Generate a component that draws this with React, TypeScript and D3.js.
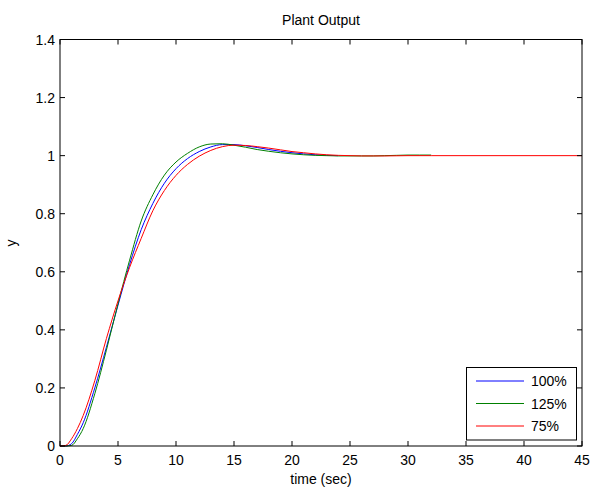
import React from "react";
import * as d3 from "d3";

const seriesNames = ["100%", "125%", "75%"];
const seriesColors = ["#0000ff", "#008000", "#ff0000"];

const timeBlue = [0, 0.5, 1, 1.5, 2, 3, 4, 5, 6, 7, 8, 9, 10, 11, 12, 13, 14, 15, 16, 17, 18, 19, 20, 21, 22, 23, 24];
const valBlue = [0, 0.0, 0.008, 0.04, 0.08, 0.2, 0.34, 0.485, 0.625, 0.745, 0.835, 0.905, 0.955, 0.99, 1.014, 1.03, 1.038, 1.038, 1.034, 1.028, 1.021, 1.015, 1.01, 1.006, 1.003, 1.001, 1.0];

const timeGreen = [0, 0.5, 1, 1.5, 2, 3, 4, 5, 6, 7, 8, 9, 10, 11, 12, 13, 14, 15, 16, 17, 18, 19, 20, 21, 22, 23, 24, 25, 26, 27, 28, 29, 30, 31, 32];
const valGreen = [0, 0.0, 0.002, 0.025, 0.06, 0.18, 0.33, 0.49, 0.64, 0.775, 0.865, 0.933, 0.978, 1.008, 1.03, 1.04, 1.041, 1.036, 1.029, 1.021, 1.015, 1.01, 1.006, 1.003, 1.001, 1.0, 0.999, 0.999, 0.999, 0.999, 1.0, 1.001, 1.002, 1.002, 1.002];

const timeRed = [0, 0.5, 1, 1.5, 2, 3, 4, 5, 6, 7, 8, 9, 10, 11, 12, 13, 14, 15, 16, 17, 18, 19, 20, 21, 22, 23, 24, 25, 26, 27, 28, 30, 32, 35, 40, 45];
const valRed = [0, 0.002, 0.025, 0.06, 0.105, 0.225, 0.37, 0.5, 0.615, 0.715, 0.81, 0.88, 0.932, 0.97, 0.998, 1.018, 1.031, 1.036, 1.035, 1.031, 1.026, 1.02, 1.014, 1.01, 1.006, 1.003, 1.001, 1.0, 0.999, 0.999, 0.999, 1.0, 1.0, 1.0, 1.0, 1.0];

const xTicks = [0, 5, 10, 15, 20, 25, 30, 35, 40, 45];
const yTicks = [0, 0.2, 0.4, 0.6, 0.8, 1, 1.2, 1.4];

const W = 592, H = 488;
const L = 60, R = 582, T = 39.5, B = 446;
const FONT = "'Liberation Sans', Arial, Helvetica, sans-serif";

export default function App() {
  const x = d3.scaleLinear().domain([0, 45]).range([L, R]);
  const y = d3.scaleLinear().domain([0, 1.4]).range([B, T]);
  const line = d3
    .line<[number, number]>()
    .x((d) => x(d[0]))
    .y((d) => y(d[1]))
    .curve(d3.curveMonotoneX);

  const series = [
    d3.zip(timeBlue, valBlue) as [number, number][],
    d3.zip(timeGreen, valGreen) as [number, number][],
    d3.zip(timeRed, valRed) as [number, number][],
  ];

  const tl = 5;
  const legX = 466.5, legY = 367.5, legW = 110, legH = 72.5;
  const legRows = [381, 403.5, 426];

  return (
    <svg
      width={W}
      height={H}
      style={{ position: "absolute", left: 0, top: 0, background: "#fff" }}
      fontFamily={FONT}
      fontSize={14}
    >
      <rect x={0} y={0} width={W} height={H} fill="#fff" />
      {series.map((s, i) => (
        <path key={i} d={line(s) || ""} fill="none" stroke={seriesColors[i]} strokeWidth={1} />
      ))}
      <rect x={L} y={T} width={R - L} height={B - T} fill="none" stroke="#000" strokeWidth={1} />
      {xTicks.map((t) => (
        <g key={"x" + t}>
          <line x1={x(t)} x2={x(t)} y1={B} y2={B - tl} stroke="#000" />
          <line x1={x(t)} x2={x(t)} y1={T} y2={T + tl} stroke="#000" />
          <text x={x(t)} y={B + 19} textAnchor="middle" fill="#000">
            {t}
          </text>
        </g>
      ))}
      {yTicks.map((t) => (
        <g key={"y" + t}>
          <line x1={L} x2={L + tl} y1={y(t)} y2={y(t)} stroke="#000" />
          <line x1={R} x2={R - tl} y1={y(t)} y2={y(t)} stroke="#000" />
          <text x={L - 5} y={y(t)} dy="0.36em" textAnchor="end" fill="#000">
            {d3.format("~g")(t)}
          </text>
        </g>
      ))}
      <text x={(L + R) / 2} y={25} textAnchor="middle" fill="#000">
        Plant Output
      </text>
      <text x={(L + R) / 2} y={484} textAnchor="middle" fill="#000">
        time (sec)
      </text>
      <text transform={`translate(16,243) rotate(-90)`} textAnchor="middle" fill="#000">
        y
      </text>
      <rect x={legX} y={legY} width={legW} height={legH} fill="#fff" stroke="#000" strokeWidth={1} />
      {seriesNames.map((n, i) => (
        <g key={n}>
          <line x1={476} x2={524} y1={legRows[i]} y2={legRows[i]} stroke={seriesColors[i]} strokeWidth={1} />
          <text x={531} y={legRows[i]} dy="0.36em" fill="#000">
            {n}
          </text>
        </g>
      ))}
    </svg>
  );
}
